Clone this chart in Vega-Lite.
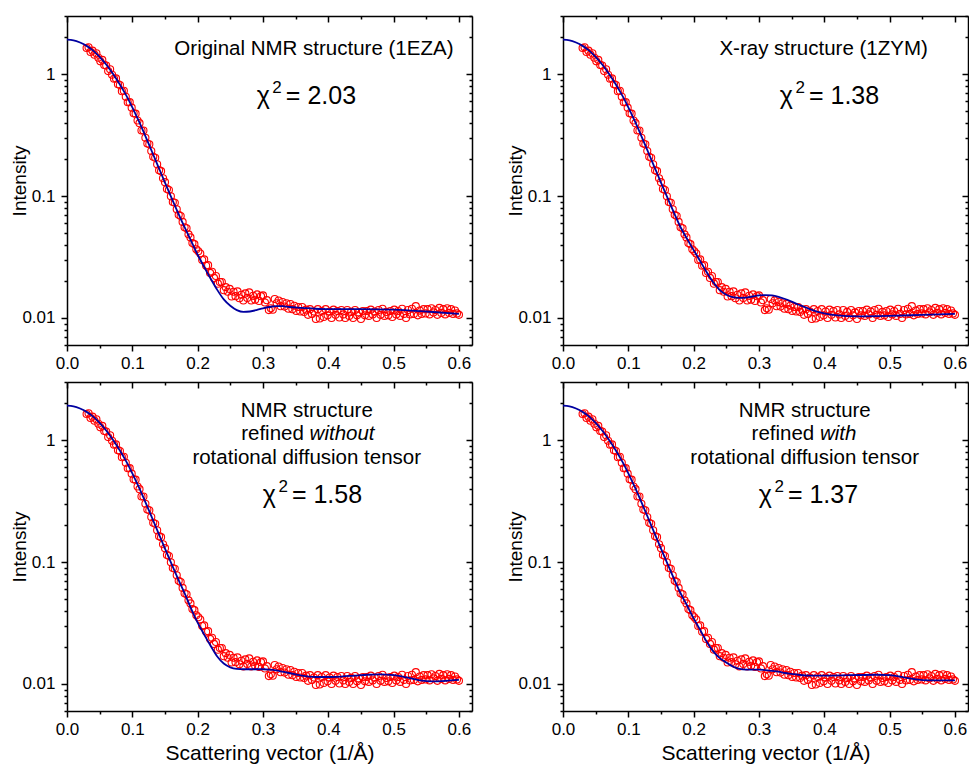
{
  "$schema": "https://vega.github.io/schema/vega-lite/v6.json",
  "padding": {"left": 10, "top": 15, "right": 0, "bottom": 5},
  "config": {
    "font": "Liberation Sans",
    "view": {"stroke": null},
    "axis": {"grid": false, "domainColor": "black", "tickColor": "black", "labelColor": "black", "titleColor": "black", "domainWidth": 1.5, "tickWidth": 1.5, "labelFontSize": 17, "titleFontSize": 19, "titleFontWeight": "normal", "labelFont": "Liberation Sans", "titleFont": "Liberation Sans", "labelFlush": false},
    "text": {"font": "Liberation Sans", "fontSize": 20.5, "color": "black", "baseline": "middle"}
  },
  "datasets": {
    "pts": [
      {"q":0.030,"i":1.638},{"q":0.033,"i":1.66},{"q":0.036,"i":1.523},{"q":0.039,"i":1.558},{"q":0.042,"i":1.444},{"q":0.045,"i":1.485},{"q":0.048,"i":1.363},{"q":0.051,"i":1.274},{"q":0.054,"i":1.31},{"q":0.057,"i":1.19},{"q":0.060,"i":1.176},{"q":0.063,"i":1.06},{"q":0.066,"i":1.095},{"q":0.069,"i":0.989},{"q":0.072,"i":0.917},{"q":0.075,"i":0.923},{"q":0.078,"i":0.828},{"q":0.081,"i":0.814},{"q":0.084,"i":0.725},{"q":0.087,"i":0.731},{"q":0.090,"i":0.652},{"q":0.093,"i":0.588},{"q":0.096,"i":0.589},{"q":0.099,"i":0.531},{"q":0.102,"i":0.477},{"q":0.105,"i":0.474},{"q":0.108,"i":0.417},{"q":0.111,"i":0.396},{"q":0.114,"i":0.345},{"q":0.117,"i":0.345},{"q":0.120,"i":0.301},{"q":0.123,"i":0.270},{"q":0.126,"i":0.266},{"q":0.129,"i":0.234},{"q":0.132,"i":0.210},{"q":0.135,"i":0.206},{"q":0.138,"i":0.182},{"q":0.141,"i":0.163},{"q":0.144,"i":0.160},{"q":0.147,"i":0.140},{"q":0.150,"i":0.130},{"q":0.153,"i":0.1145},{"q":0.156,"i":0.112},{"q":0.159,"i":0.0995},{"q":0.162,"i":0.0894},{"q":0.165,"i":0.0881},{"q":0.168,"i":0.0778},{"q":0.171,"i":0.0701},{"q":0.174,"i":0.0686},{"q":0.177,"i":0.0614},{"q":0.180,"i":0.0555},{"q":0.183,"i":0.0544},{"q":0.186,"i":0.0485},{"q":0.189,"i":0.0458},{"q":0.192,"i":0.0412},{"q":0.195,"i":0.0403},{"q":0.198,"i":0.0366},{"q":0.201,"i":0.0352},
      {"q":0.204,"i":0.0338},{"q":0.207,"i":0.0299},{"q":0.210,"i":0.0302},{"q":0.213,"i":0.0268},{"q":0.216,"i":0.0271},{"q":0.219,"i":0.0234},{"q":0.222,"i":0.0239},{"q":0.225,"i":0.0213},{"q":0.228,"i":0.0221},{"q":0.231,"i":0.0191},{"q":0.234,"i":0.0197},{"q":0.237,"i":0.0197},{"q":0.240,"i":0.0169},{"q":0.243,"i":0.0179},{"q":0.246,"i":0.0164},{"q":0.249,"i":0.0173},{"q":0.252,"i":0.0150},{"q":0.255,"i":0.0164},{"q":0.258,"i":0.0151},{"q":0.261,"i":0.0165},{"q":0.264,"i":0.0145},{"q":0.267,"i":0.0155},{"q":0.270,"i":0.0139},{"q":0.273,"i":0.0159},{"q":0.276,"i":0.0146},{"q":0.279,"i":0.0162},{"q":0.282,"i":0.0139},{"q":0.285,"i":0.0152},{"q":0.288,"i":0.0141},{"q":0.291,"i":0.0156},{"q":0.294,"i":0.0138},{"q":0.297,"i":0.0151},{"q":0.300,"i":0.0153},{"q":0.303,"i":0.0134},{"q":0.306,"i":0.0140},{"q":0.309,"i":0.0116},{"q":0.312,"i":0.0120},{"q":0.315,"i":0.0117},{"q":0.318,"i":0.0143},{"q":0.321,"i":0.0132},{"q":0.324,"i":0.0139},{"q":0.327,"i":0.0125},{"q":0.330,"i":0.0135},{"q":0.333,"i":0.0124},{"q":0.336,"i":0.0132},{"q":0.339,"i":0.0119},{"q":0.342,"i":0.0130},{"q":0.345,"i":0.0118},{"q":0.348,"i":0.0126},{"q":0.351,"i":0.0114},{"q":0.354,"i":0.0123},{"q":0.357,"i":0.0113},{"q":0.360,"i":0.0123},{"q":0.363,"i":0.0112},{"q":0.366,"i":0.0117},{"q":0.369,"i":0.0106},{"q":0.372,"i":0.0118},{"q":0.375,"i":0.0108},{"q":0.378,"i":0.0113},{"q":0.381,"i":0.0098},{"q":0.384,"i":0.0118},{"q":0.387,"i":0.0099},{"q":0.390,"i":0.0114},{"q":0.393,"i":0.0102},{"q":0.396,"i":0.0118},{"q":0.399,"i":0.0105},{"q":0.402,"i":0.0113},{"q":0.405,"i":0.0100},{"q":0.408,"i":0.0117},{"q":0.411,"i":0.0106},{"q":0.414,"i":0.0114},{"q":0.417,"i":0.0101},{"q":0.420,"i":0.0116},{"q":0.423,"i":0.0107},{"q":0.426,"i":0.0100},{"q":0.429,"i":0.0116},{"q":0.432,"i":0.0104},{"q":0.435,"i":0.0112},{"q":0.438,"i":0.0100},{"q":0.441,"i":0.0116},{"q":0.444,"i":0.0105},{"q":0.447,"i":0.0111},{"q":0.450,"i":0.0098},{"q":0.453,"i":0.0114},{"q":0.456,"i":0.0105},{"q":0.459,"i":0.0114},{"q":0.462,"i":0.0104},{"q":0.465,"i":0.0117},{"q":0.468,"i":0.0107},{"q":0.471,"i":0.0113},{"q":0.474,"i":0.0100},{"q":0.477,"i":0.0116},{"q":0.480,"i":0.0106},{"q":0.483,"i":0.0119},{"q":0.486,"i":0.0104},{"q":0.489,"i":0.0112},{"q":0.492,"i":0.0105},{"q":0.495,"i":0.0114},{"q":0.498,"i":0.0102},{"q":0.501,"i":0.0117},{"q":0.504,"i":0.0107},{"q":0.507,"i":0.0114},{"q":0.510,"i":0.0104},{"q":0.513,"i":0.0119},{"q":0.516,"i":0.0108},{"q":0.519,"i":0.0100},{"q":0.522,"i":0.0116},{"q":0.525,"i":0.0107},{"q":0.528,"i":0.0119},{"q":0.531,"i":0.0108},{"q":0.534,"i":0.0125},{"q":0.537,"i":0.0105},{"q":0.540,"i":0.0115},{"q":0.543,"i":0.0108},{"q":0.546,"i":0.0118},{"q":0.549,"i":0.0109},{"q":0.552,"i":0.0118},{"q":0.555,"i":0.0107},{"q":0.558,"i":0.0120},{"q":0.561,"i":0.0111},{"q":0.564,"i":0.0116},{"q":0.567,"i":0.0106},{"q":0.570,"i":0.0121},{"q":0.573,"i":0.0110},{"q":0.576,"i":0.0118},{"q":0.579,"i":0.0107},{"q":0.582,"i":0.0120},{"q":0.585,"i":0.0110},{"q":0.588,"i":0.0118},{"q":0.591,"i":0.0108},{"q":0.594,"i":0.0115},{"q":0.597,"i":0.0109},{"q":0.600,"i":0.0106}
    ],
    "fit": [
      {"p":0,"q":0,"i":1.919},{"p":0,"q":0.01,"i":1.897},{"p":0,"q":0.02,"i":1.82},{"p":0,"q":0.03,"i":1.706},{"p":0,"q":0.04,"i":1.56},{"p":0,"q":0.05,"i":1.387},{"p":0,"q":0.06,"i":1.199},{"p":0,"q":0.07,"i":1.014},{"p":0,"q":0.08,"i":0.839},{"p":0,"q":0.09,"i":0.679},{"p":0,"q":0.1,"i":0.535},{"p":0,"q":0.11,"i":0.411},{"p":0,"q":0.12,"i":0.31},{"p":0,"q":0.13,"i":0.232},{"p":0,"q":0.14,"i":0.173},{"p":0,"q":0.15,"i":0.129},{"p":0,"q":0.16,"i":0.0966},{"p":0,"q":0.17,"i":0.0728},{"p":0,"q":0.18,"i":0.0555},
      {"p":1,"q":0.19,"i":0.0429},{"p":1,"q":0.20,"i":0.0330},{"p":1,"q":0.21,"i":0.0262},{"p":1,"q":0.22,"i":0.0210},{"p":1,"q":0.23,"i":0.0170},{"p":1,"q":0.24,"i":0.0142},{"p":1,"q":0.25,"i":0.0126},{"p":1,"q":0.26,"i":0.0116},{"p":1,"q":0.27,"i":0.0112},{"p":1,"q":0.28,"i":0.0113},{"p":1,"q":0.29,"i":0.0116},{"p":1,"q":0.30,"i":0.0120},{"p":1,"q":0.31,"i":0.0123},{"p":1,"q":0.32,"i":0.0125},{"p":1,"q":0.33,"i":0.0125},{"p":1,"q":0.34,"i":0.0123},{"p":1,"q":0.36,"i":0.0121},{"p":1,"q":0.38,"i":0.0119},{"p":1,"q":0.40,"i":0.0118},{"p":1,"q":0.45,"i":0.0118},{"p":1,"q":0.50,"i":0.0117},{"p":1,"q":0.55,"i":0.0113},{"p":1,"q":0.60,"i":0.0108},
      {"p":2,"q":0.19,"i":0.0445},{"p":2,"q":0.20,"i":0.0360},{"p":2,"q":0.21,"i":0.0293},{"p":2,"q":0.22,"i":0.0237},{"p":2,"q":0.23,"i":0.0196},{"p":2,"q":0.24,"i":0.0169},{"p":2,"q":0.25,"i":0.0155},{"p":2,"q":0.26,"i":0.0148},{"p":2,"q":0.27,"i":0.0146},{"p":2,"q":0.28,"i":0.0147},{"p":2,"q":0.29,"i":0.0150},{"p":2,"q":0.30,"i":0.0153},{"p":2,"q":0.31,"i":0.0154},{"p":2,"q":0.32,"i":0.0153},{"p":2,"q":0.33,"i":0.0149},{"p":2,"q":0.34,"i":0.0143},{"p":2,"q":0.35,"i":0.0136},{"p":2,"q":0.36,"i":0.0129},{"p":2,"q":0.37,"i":0.0123},{"p":2,"q":0.38,"i":0.0117},{"p":2,"q":0.39,"i":0.0112},{"p":2,"q":0.40,"i":0.0109},{"p":2,"q":0.42,"i":0.0105},{"p":2,"q":0.45,"i":0.0103},{"p":2,"q":0.50,"i":0.0104},{"p":2,"q":0.55,"i":0.0106},{"p":2,"q":0.60,"i":0.0108},
      {"p":3,"q":0.19,"i":0.0415},{"p":3,"q":0.20,"i":0.0318},{"p":3,"q":0.21,"i":0.0254},{"p":3,"q":0.22,"i":0.0205},{"p":3,"q":0.23,"i":0.0168},{"p":3,"q":0.24,"i":0.0147},{"p":3,"q":0.25,"i":0.0137},{"p":3,"q":0.26,"i":0.0133},{"p":3,"q":0.27,"i":0.0132},{"p":3,"q":0.28,"i":0.0132},{"p":3,"q":0.29,"i":0.0132},{"p":3,"q":0.30,"i":0.0132},{"p":3,"q":0.31,"i":0.0131},{"p":3,"q":0.32,"i":0.0129},{"p":3,"q":0.33,"i":0.0126},{"p":3,"q":0.34,"i":0.0123},{"p":3,"q":0.35,"i":0.0120},{"p":3,"q":0.36,"i":0.0117},{"p":3,"q":0.37,"i":0.0115},{"p":3,"q":0.38,"i":0.0114},{"p":3,"q":0.40,"i":0.0114},{"p":3,"q":0.42,"i":0.0115},{"p":3,"q":0.44,"i":0.0117},{"p":3,"q":0.46,"i":0.0119},{"p":3,"q":0.48,"i":0.0120},{"p":3,"q":0.50,"i":0.0118},{"p":3,"q":0.52,"i":0.0113},{"p":3,"q":0.54,"i":0.0107},{"p":3,"q":0.56,"i":0.0105},{"p":3,"q":0.58,"i":0.0106},{"p":3,"q":0.60,"i":0.0108},
      {"p":4,"q":0.19,"i":0.0440},{"p":4,"q":0.20,"i":0.0345},{"p":4,"q":0.21,"i":0.0278},{"p":4,"q":0.22,"i":0.0222},{"p":4,"q":0.23,"i":0.0185},{"p":4,"q":0.24,"i":0.0163},{"p":4,"q":0.25,"i":0.0150},{"p":4,"q":0.26,"i":0.0139},{"p":4,"q":0.27,"i":0.0133},{"p":4,"q":0.28,"i":0.0131},{"p":4,"q":0.29,"i":0.0131},{"p":4,"q":0.30,"i":0.0131},{"p":4,"q":0.31,"i":0.0130},{"p":4,"q":0.32,"i":0.0128},{"p":4,"q":0.33,"i":0.0126},{"p":4,"q":0.34,"i":0.0123},{"p":4,"q":0.35,"i":0.0121},{"p":4,"q":0.36,"i":0.0119},{"p":4,"q":0.38,"i":0.0117},{"p":4,"q":0.40,"i":0.0117},{"p":4,"q":0.44,"i":0.0118},{"p":4,"q":0.48,"i":0.0119},{"p":4,"q":0.50,"i":0.0118},{"p":4,"q":0.52,"i":0.0114},{"p":4,"q":0.54,"i":0.0109},{"p":4,"q":0.56,"i":0.0107},{"p":4,"q":0.60,"i":0.0107}
    ],
    "lab": [
      {"p":1,"q":0.378,"i":1.61,"t":"Original NMR structure (1EZA)"},
      {"p":2,"q":0.399,"i":1.61,"t":"X-ray structure (1ZYM)"},
      {"p":3,"q":0.367,"i":1.75,"t":"NMR structure"},
      {"p":3,"q":0.367,"i":0.708,"t":"rotational diffusion tensor"},
      {"p":4,"q":0.37,"i":1.75,"t":"NMR structure"},
      {"p":4,"q":0.37,"i":0.708,"t":"rotational diffusion tensor"}
    ],
    "chi": [
      {"p":1,"q":0.335,"i":0.664,"t":"= 2.03"},
      {"p":2,"q":0.3765,"i":0.664,"t":"= 1.38"},
      {"p":3,"q":0.3443,"i":0.352,"t":"= 1.58"},
      {"p":4,"q":0.3443,"i":0.352,"t":"= 1.37"}
    ],
    "split": [
      {"p":3,"q":0.367,"i":1.13,"a":"refined","b":"without"},
      {"p":4,"q":0.389,"i":1.13,"a":"refined","b":"with"}
    ]
  },
  "columns": 2,
  "spacing": {"row": 37, "column": 91},
  "bounds": "flush",
  "concat": [
    {
      "width": 405, "height": 329,
      "resolve": {"axis": {"x": "independent", "y": "independent"}},
      "layer": [
        {"data": {"name": "pts"}, "mark": {"type": "point", "shape": "circle", "filled": false, "color": "#ff0000", "size": 50, "strokeWidth": 1.1, "opacity": 1},
         "encoding": {
           "x": {"field": "q", "type": "quantitative", "scale": {"domain": [0, 0.62], "nice": false, "zero": false}, "axis": {"orient": "bottom", "values": [0,0.1,0.2,0.3,0.4,0.5,0.6], "format": ".1f", "tickSize": 6, "labelPadding": 4, "title": null}},
           "y": {"field": "i", "type": "quantitative", "scale": {"type": "log", "domain": [0.006, 3], "nice": false}, "axis": {"orient": "left", "values": [0.01,0.1,1], "format": "~g", "tickSize": 6, "labelPadding": 6, "title": "Intensity", "titlePadding": -8}}}},
        {"data": {"name": "fit"}, "transform": [{"filter": "datum.p == 0 || datum.p == 1"}], "mark": {"type": "line", "color": "#0000a0", "strokeWidth": 1.8, "interpolate": "monotone"},
         "encoding": {
           "x": {"field": "q", "type": "quantitative", "axis": {"orient": "top", "values": [0,0.1,0.2,0.3,0.4,0.5,0.6], "tickSize": -6, "labels": false, "title": null}},
           "y": {"field": "i", "type": "quantitative", "axis": {"orient": "right", "values": [0.01,0.1,1], "tickSize": -6, "labels": false, "title": null}}}},
        {"data": {"name": "lab"}, "transform": [{"filter": "datum.p == 1"}], "mark": {"type": "text", "fontSize": 20.5},
         "encoding": {
           "x": {"field": "q", "type": "quantitative", "axis": {"orient": "bottom", "values": [0.05,0.15,0.25,0.35,0.45,0.55], "tickSize": 3, "labels": false, "domain": false, "title": null}},
           "y": {"field": "i", "type": "quantitative", "axis": {"orient": "left", "values": [0.006,0.007,0.008,0.009,0.02,0.03,0.04,0.05,0.06,0.07,0.08,0.09,0.2,0.3,0.4,0.5,0.6,0.7,0.8,0.9,2,3], "tickSize": 3, "labels": false, "domain": false, "title": null}},
           "text": {"field": "t"}}},
        {"data": {"name": "chi"}, "transform": [{"filter": "datum.p == 1"}], "mark": {"type": "text", "fontSize": 25, "align": "left"},
         "encoding": {
           "x": {"field": "q", "type": "quantitative", "axis": {"orient": "top", "values": [0.05,0.15,0.25,0.35,0.45,0.55], "tickSize": -3, "labels": false, "domain": false, "title": null}},
           "y": {"field": "i", "type": "quantitative", "axis": {"orient": "right", "values": [0.006,0.007,0.008,0.009,0.02,0.03,0.04,0.05,0.06,0.07,0.08,0.09,0.2,0.3,0.4,0.5,0.6,0.7,0.8,0.9,2,3], "tickSize": -3, "labels": false, "domain": false, "title": null}},
           "text": {"field": "t"}}},
        {"data": {"name": "chi"}, "transform": [{"filter": "datum.p == 1"}], "mark": {"type": "text", "fontSize": 25, "align": "right", "dx": -16, "text": "χ"},
         "encoding": {"x": {"field": "q", "type": "quantitative", "axis": null}, "y": {"field": "i", "type": "quantitative", "axis": null}}},
        {"data": {"name": "chi"}, "transform": [{"filter": "datum.p == 1"}], "mark": {"type": "text", "fontSize": 17, "align": "right", "dx": -4, "dy": -8, "text": "2"},
         "encoding": {"x": {"field": "q", "type": "quantitative", "axis": null}, "y": {"field": "i", "type": "quantitative", "axis": null}}}
      ]
    },
    {
      "width": 405, "height": 329,
      "resolve": {"axis": {"x": "independent", "y": "independent"}},
      "layer": [
        {"data": {"name": "pts"}, "mark": {"type": "point", "shape": "circle", "filled": false, "color": "#ff0000", "size": 50, "strokeWidth": 1.1, "opacity": 1},
         "encoding": {
           "x": {"field": "q", "type": "quantitative", "scale": {"domain": [0, 0.62], "nice": false, "zero": false}, "axis": {"orient": "bottom", "values": [0,0.1,0.2,0.3,0.4,0.5,0.6], "format": ".1f", "tickSize": 6, "labelPadding": 4, "title": null}},
           "y": {"field": "i", "type": "quantitative", "scale": {"type": "log", "domain": [0.006, 3], "nice": false}, "axis": {"orient": "left", "values": [0.01,0.1,1], "format": "~g", "tickSize": 6, "labelPadding": 6, "title": "Intensity", "titlePadding": -8}}}},
        {"data": {"name": "fit"}, "transform": [{"filter": "datum.p == 0 || datum.p == 2"}], "mark": {"type": "line", "color": "#0000a0", "strokeWidth": 1.8, "interpolate": "monotone"},
         "encoding": {
           "x": {"field": "q", "type": "quantitative", "axis": {"orient": "top", "values": [0,0.1,0.2,0.3,0.4,0.5,0.6], "tickSize": -6, "labels": false, "title": null}},
           "y": {"field": "i", "type": "quantitative", "axis": {"orient": "right", "values": [0.01,0.1,1], "tickSize": -6, "labels": false, "title": null}}}},
        {"data": {"name": "lab"}, "transform": [{"filter": "datum.p == 2"}], "mark": {"type": "text", "fontSize": 20.5},
         "encoding": {
           "x": {"field": "q", "type": "quantitative", "axis": {"orient": "bottom", "values": [0.05,0.15,0.25,0.35,0.45,0.55], "tickSize": 3, "labels": false, "domain": false, "title": null}},
           "y": {"field": "i", "type": "quantitative", "axis": {"orient": "left", "values": [0.006,0.007,0.008,0.009,0.02,0.03,0.04,0.05,0.06,0.07,0.08,0.09,0.2,0.3,0.4,0.5,0.6,0.7,0.8,0.9,2,3], "tickSize": 3, "labels": false, "domain": false, "title": null}},
           "text": {"field": "t"}}},
        {"data": {"name": "chi"}, "transform": [{"filter": "datum.p == 2"}], "mark": {"type": "text", "fontSize": 25, "align": "left"},
         "encoding": {
           "x": {"field": "q", "type": "quantitative", "axis": {"orient": "top", "values": [0.05,0.15,0.25,0.35,0.45,0.55], "tickSize": -3, "labels": false, "domain": false, "title": null}},
           "y": {"field": "i", "type": "quantitative", "axis": {"orient": "right", "values": [0.006,0.007,0.008,0.009,0.02,0.03,0.04,0.05,0.06,0.07,0.08,0.09,0.2,0.3,0.4,0.5,0.6,0.7,0.8,0.9,2,3], "tickSize": -3, "labels": false, "domain": false, "title": null}},
           "text": {"field": "t"}}},
        {"data": {"name": "chi"}, "transform": [{"filter": "datum.p == 2"}], "mark": {"type": "text", "fontSize": 25, "align": "right", "dx": -16, "text": "χ"},
         "encoding": {"x": {"field": "q", "type": "quantitative", "axis": null}, "y": {"field": "i", "type": "quantitative", "axis": null}}},
        {"data": {"name": "chi"}, "transform": [{"filter": "datum.p == 2"}], "mark": {"type": "text", "fontSize": 17, "align": "right", "dx": -4, "dy": -8, "text": "2"},
         "encoding": {"x": {"field": "q", "type": "quantitative", "axis": null}, "y": {"field": "i", "type": "quantitative", "axis": null}}}
      ]
    },
    {
      "width": 405, "height": 329,
      "resolve": {"axis": {"x": "independent", "y": "independent"}},
      "layer": [
        {"data": {"name": "pts"}, "mark": {"type": "point", "shape": "circle", "filled": false, "color": "#ff0000", "size": 50, "strokeWidth": 1.1, "opacity": 1},
         "encoding": {
           "x": {"field": "q", "type": "quantitative", "scale": {"domain": [0, 0.62], "nice": false, "zero": false}, "axis": {"orient": "bottom", "values": [0,0.1,0.2,0.3,0.4,0.5,0.6], "format": ".1f", "tickSize": 6, "labelPadding": 4, "title": "Scattering vector (1/Å)", "titleFontSize": 21, "titlePadding": 5}},
           "y": {"field": "i", "type": "quantitative", "scale": {"type": "log", "domain": [0.006, 3], "nice": false}, "axis": {"orient": "left", "values": [0.01,0.1,1], "format": "~g", "tickSize": 6, "labelPadding": 6, "title": "Intensity", "titlePadding": -8}}}},
        {"data": {"name": "fit"}, "transform": [{"filter": "datum.p == 0 || datum.p == 3"}], "mark": {"type": "line", "color": "#0000a0", "strokeWidth": 1.8, "interpolate": "monotone"},
         "encoding": {
           "x": {"field": "q", "type": "quantitative", "axis": {"orient": "top", "values": [0,0.1,0.2,0.3,0.4,0.5,0.6], "tickSize": -6, "labels": false, "title": null}},
           "y": {"field": "i", "type": "quantitative", "axis": {"orient": "right", "values": [0.01,0.1,1], "tickSize": -6, "labels": false, "title": null}}}},
        {"data": {"name": "lab"}, "transform": [{"filter": "datum.p == 3"}], "mark": {"type": "text", "fontSize": 20.5},
         "encoding": {
           "x": {"field": "q", "type": "quantitative", "axis": {"orient": "bottom", "values": [0.05,0.15,0.25,0.35,0.45,0.55], "tickSize": 3, "labels": false, "domain": false, "title": null}},
           "y": {"field": "i", "type": "quantitative", "axis": {"orient": "left", "values": [0.006,0.007,0.008,0.009,0.02,0.03,0.04,0.05,0.06,0.07,0.08,0.09,0.2,0.3,0.4,0.5,0.6,0.7,0.8,0.9,2,3], "tickSize": 3, "labels": false, "domain": false, "title": null}},
           "text": {"field": "t"}}},
        {"data": {"name": "chi"}, "transform": [{"filter": "datum.p == 3"}], "mark": {"type": "text", "fontSize": 25, "align": "left"},
         "encoding": {
           "x": {"field": "q", "type": "quantitative", "axis": {"orient": "top", "values": [0.05,0.15,0.25,0.35,0.45,0.55], "tickSize": -3, "labels": false, "domain": false, "title": null}},
           "y": {"field": "i", "type": "quantitative", "axis": {"orient": "right", "values": [0.006,0.007,0.008,0.009,0.02,0.03,0.04,0.05,0.06,0.07,0.08,0.09,0.2,0.3,0.4,0.5,0.6,0.7,0.8,0.9,2,3], "tickSize": -3, "labels": false, "domain": false, "title": null}},
           "text": {"field": "t"}}},
        {"data": {"name": "chi"}, "transform": [{"filter": "datum.p == 3"}], "mark": {"type": "text", "fontSize": 25, "align": "right", "dx": -16, "text": "χ"},
         "encoding": {"x": {"field": "q", "type": "quantitative", "axis": null}, "y": {"field": "i", "type": "quantitative", "axis": null}}},
        {"data": {"name": "chi"}, "transform": [{"filter": "datum.p == 3"}], "mark": {"type": "text", "fontSize": 17, "align": "right", "dx": -4, "dy": -8, "text": "2"},
         "encoding": {"x": {"field": "q", "type": "quantitative", "axis": null}, "y": {"field": "i", "type": "quantitative", "axis": null}}},
        {"data": {"name": "split"}, "transform": [{"filter": "datum.p == 3"}], "mark": {"type": "text", "fontSize": 20.5, "align": "right", "dx": -2.85},
         "encoding": {"x": {"field": "q", "type": "quantitative", "axis": null}, "y": {"field": "i", "type": "quantitative", "axis": null}, "text": {"field": "a"}}},
        {"data": {"name": "split"}, "transform": [{"filter": "datum.p == 3"}], "mark": {"type": "text", "fontSize": 20.5, "align": "left", "dx": 2.85, "fontStyle": "italic"},
         "encoding": {"x": {"field": "q", "type": "quantitative", "axis": null}, "y": {"field": "i", "type": "quantitative", "axis": null}, "text": {"field": "b"}}}
      ]
    },
    {
      "width": 405, "height": 329,
      "resolve": {"axis": {"x": "independent", "y": "independent"}},
      "layer": [
        {"data": {"name": "pts"}, "mark": {"type": "point", "shape": "circle", "filled": false, "color": "#ff0000", "size": 50, "strokeWidth": 1.1, "opacity": 1},
         "encoding": {
           "x": {"field": "q", "type": "quantitative", "scale": {"domain": [0, 0.62], "nice": false, "zero": false}, "axis": {"orient": "bottom", "values": [0,0.1,0.2,0.3,0.4,0.5,0.6], "format": ".1f", "tickSize": 6, "labelPadding": 4, "title": "Scattering vector (1/Å)", "titleFontSize": 21, "titlePadding": 5}},
           "y": {"field": "i", "type": "quantitative", "scale": {"type": "log", "domain": [0.006, 3], "nice": false}, "axis": {"orient": "left", "values": [0.01,0.1,1], "format": "~g", "tickSize": 6, "labelPadding": 6, "title": "Intensity", "titlePadding": -8}}}},
        {"data": {"name": "fit"}, "transform": [{"filter": "datum.p == 0 || datum.p == 4"}], "mark": {"type": "line", "color": "#0000a0", "strokeWidth": 1.8, "interpolate": "monotone"},
         "encoding": {
           "x": {"field": "q", "type": "quantitative", "axis": {"orient": "top", "values": [0,0.1,0.2,0.3,0.4,0.5,0.6], "tickSize": -6, "labels": false, "title": null}},
           "y": {"field": "i", "type": "quantitative", "axis": {"orient": "right", "values": [0.01,0.1,1], "tickSize": -6, "labels": false, "title": null}}}},
        {"data": {"name": "lab"}, "transform": [{"filter": "datum.p == 4"}], "mark": {"type": "text", "fontSize": 20.5},
         "encoding": {
           "x": {"field": "q", "type": "quantitative", "axis": {"orient": "bottom", "values": [0.05,0.15,0.25,0.35,0.45,0.55], "tickSize": 3, "labels": false, "domain": false, "title": null}},
           "y": {"field": "i", "type": "quantitative", "axis": {"orient": "left", "values": [0.006,0.007,0.008,0.009,0.02,0.03,0.04,0.05,0.06,0.07,0.08,0.09,0.2,0.3,0.4,0.5,0.6,0.7,0.8,0.9,2,3], "tickSize": 3, "labels": false, "domain": false, "title": null}},
           "text": {"field": "t"}}},
        {"data": {"name": "chi"}, "transform": [{"filter": "datum.p == 4"}], "mark": {"type": "text", "fontSize": 25, "align": "left"},
         "encoding": {
           "x": {"field": "q", "type": "quantitative", "axis": {"orient": "top", "values": [0.05,0.15,0.25,0.35,0.45,0.55], "tickSize": -3, "labels": false, "domain": false, "title": null}},
           "y": {"field": "i", "type": "quantitative", "axis": {"orient": "right", "values": [0.006,0.007,0.008,0.009,0.02,0.03,0.04,0.05,0.06,0.07,0.08,0.09,0.2,0.3,0.4,0.5,0.6,0.7,0.8,0.9,2,3], "tickSize": -3, "labels": false, "domain": false, "title": null}},
           "text": {"field": "t"}}},
        {"data": {"name": "chi"}, "transform": [{"filter": "datum.p == 4"}], "mark": {"type": "text", "fontSize": 25, "align": "right", "dx": -16, "text": "χ"},
         "encoding": {"x": {"field": "q", "type": "quantitative", "axis": null}, "y": {"field": "i", "type": "quantitative", "axis": null}}},
        {"data": {"name": "chi"}, "transform": [{"filter": "datum.p == 4"}], "mark": {"type": "text", "fontSize": 17, "align": "right", "dx": -4, "dy": -8, "text": "2"},
         "encoding": {"x": {"field": "q", "type": "quantitative", "axis": null}, "y": {"field": "i", "type": "quantitative", "axis": null}}},
        {"data": {"name": "split"}, "transform": [{"filter": "datum.p == 4"}], "mark": {"type": "text", "fontSize": 20.5, "align": "right", "dx": -2.85},
         "encoding": {"x": {"field": "q", "type": "quantitative", "axis": null}, "y": {"field": "i", "type": "quantitative", "axis": null}, "text": {"field": "a"}}},
        {"data": {"name": "split"}, "transform": [{"filter": "datum.p == 4"}], "mark": {"type": "text", "fontSize": 20.5, "align": "left", "dx": 2.85, "fontStyle": "italic"},
         "encoding": {"x": {"field": "q", "type": "quantitative", "axis": null}, "y": {"field": "i", "type": "quantitative", "axis": null}, "text": {"field": "b"}}}
      ]
    }
  ]
}
